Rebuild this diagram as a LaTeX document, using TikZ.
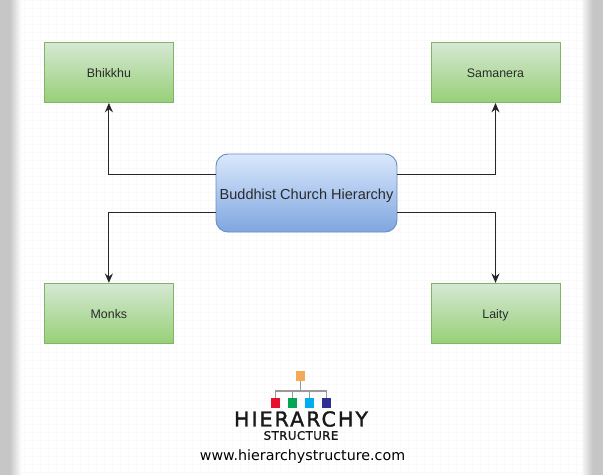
\documentclass[tikz,border=0pt]{standalone}
\usepackage{fontspec}
\setmainfont{Liberation Sans}
\newfontfamily\logofont[LetterSpace=10,FakeBold=1.6]{DejaVu Sans}
\newfontfamily\logosubfont[LetterSpace=4,FakeBold=1.4]{DejaVu Sans}
\newfontfamily\urlfont{DejaVu Sans}
\usetikzlibrary{arrows.meta,calc}
\definecolor{greentop}{HTML}{D5E8D4}
\definecolor{greenbot}{HTML}{97D077}
\definecolor{greenline}{HTML}{82B366}
\definecolor{bluetop}{HTML}{DAE8FC}
\definecolor{bluebot}{HTML}{7EA6E0}
\definecolor{blueline}{HTML}{6C8EBF}
\definecolor{inkc}{HTML}{2A2A2A}
\definecolor{edgegray}{HTML}{C6C6C6}
\definecolor{logoorange}{HTML}{F4A95A}
\definecolor{logored}{HTML}{E8112D}
\definecolor{logogreen}{HTML}{00A651}
\definecolor{logocyan}{HTML}{00AEEF}
\definecolor{logonavy}{HTML}{2E3192}
\tikzset{
  leafbox/.style={draw=greenline,line width=0.7pt,top color=greentop,bottom color=greenbot,
    minimum width=96.75pt,minimum height=45pt,inner sep=0pt,text=inkc,text height=8.1pt,text depth=0pt,font=\fontsize{9.3pt}{11pt}\selectfont},
  rootbox/.style={draw=blueline,line width=0.7pt,top color=bluetop,bottom color=bluebot,rounded corners=9pt,
    minimum width=135.75pt,minimum height=58.5pt,inner sep=0pt,text=inkc,text height=9.3pt,text depth=0pt,font=\fontsize{10.9pt}{12pt}\selectfont},
  link/.style={draw=black!85,line width=0.7pt,-{Stealth[length=7pt,width=6pt]}},
  logolink/.style={draw=black!40,line width=0.8pt},
  sq/.style={minimum size=6.9pt,inner sep=0pt},
}
\begin{document}
\begin{tikzpicture}[x=0.75pt,y=-0.75pt]
\useasboundingbox (0,0) rectangle (603,475);
\fill[white] (0,0) rectangle (603,475);
\foreach \g in {0,8,...,600}{\draw[black!2.5,line width=0.4pt] (\g,0) -- (\g,475);}
\foreach \g in {0,8,...,472}{\draw[black!2.5,line width=0.4pt] (0,\g) -- (603,\g);}
\fill[edgegray] (0,0) rectangle (10,475);
\fill[edgegray] (593,0) rectangle (603,475);
\foreach \i in {0,...,11}{
  \pgfmathsetmacro{\pct}{100*(1-(\i+0.5)/12)}
  \fill[edgegray!\pct!white] (10+\i,0) rectangle (11+\i,475);
  \fill[edgegray!\pct!white] (593-\i,0) rectangle (592-\i,475);
}

\node[rootbox] (root) at (306.5,193) {Buddhist Church Hierarchy};
\node[leafbox] (bhikkhu) at (108.9,72.5) {Bhikkhu};
\node[leafbox] (samanera) at (495.5,72.5) {Samanera};
\node[leafbox] (monks) at (108.9,313.3) {Monks};
\node[leafbox] (laity) at (495.5,313.3) {Laity};

\draw[link] ($(root.west)+(0,-19)$) -| (bhikkhu.south);
\draw[link] ($(root.east)+(0,-19)$) -| (samanera.south);
\draw[link] ($(root.west)+(0,19)$) -| (monks.north);
\draw[link] ($(root.east)+(0,19)$) -| (laity.north);

\node[sq,fill=logoorange] (top) at (300.7,376) {};
\node[sq,fill=logored] (s1) at (275.3,403) {};
\node[sq,fill=logogreen] (s2) at (292.5,403) {};
\node[sq,fill=logocyan] (s3) at (309.5,403) {};
\node[sq,fill=logonavy] (s4) at (326.5,403) {};
\coordinate (bus) at (300.7,391);
\draw[logolink] (top.south) -- (bus);
\draw[logolink] (s1.north) |- (bus);
\draw[logolink] (s2.north) |- (bus);
\draw[logolink] (s3.north) |- (bus);
\draw[logolink] (s4.north) |- (bus);

\node[inner sep=0pt,text=black!90,font=\logofont\fontsize{15.4pt}{18pt}\selectfont] (logo) at (301,419) {HIERARCHY};
\node[inner sep=0pt,text=black!90,font=\logosubfont\fontsize{8.8pt}{11pt}\selectfont] (logosub) at (301,435.5) {STRUCTURE};
\node[inner sep=0pt,text=black,font=\urlfont\fontsize{10.7pt}{12pt}\selectfont] (url) at (302.5,457) {www.hierarchystructure.com};
\end{tikzpicture}
\end{document}
